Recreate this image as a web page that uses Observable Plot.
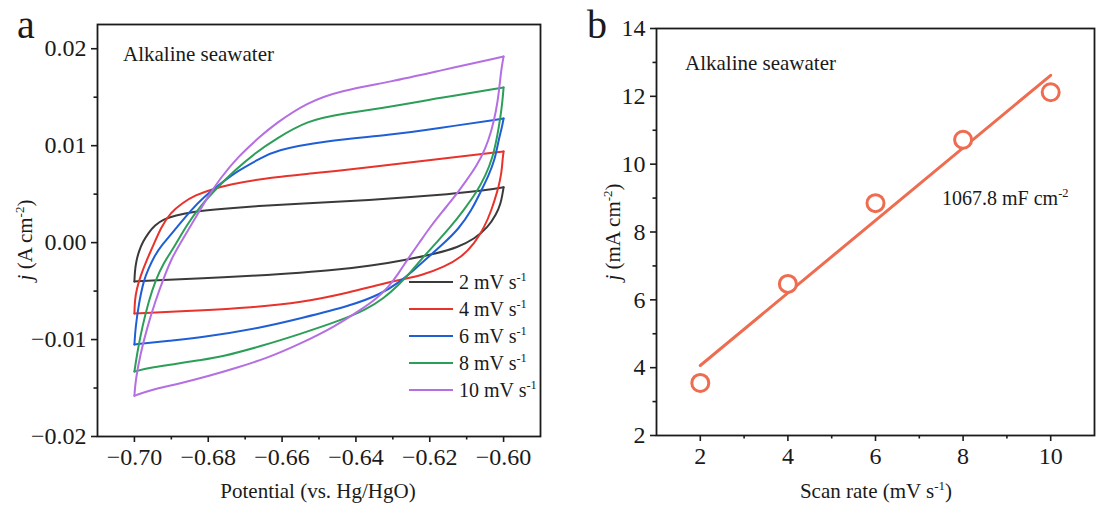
<!DOCTYPE html>
<html><head><meta charset="utf-8">
<script src="https://cdn.jsdelivr.net/npm/d3@7"></script>
<script src="https://cdn.jsdelivr.net/npm/@observablehq/plot@0.6"></script>
<style>
body{margin:0;background:#fff}
#root{position:relative;width:1097px;height:518px;overflow:hidden;background:#fff}
#root svg{position:absolute;top:0;overflow:visible}
</style></head><body><div id="root"></div>
<script>
// ---------- Panel a: CV curves (potential V vs Hg/HgO, current density j in A cm^-2) ----------
const cvLabels = ["2", "4", "6", "8", "10"];
const cvColors = ["#3a3a3a", "#e8322c", "#1f5fd5", "#2c9e58", "#b46fe3"];

// anodic (forward) sweeps -0.70 -> -0.60, and cathodic (reverse) sweeps -0.60 -> -0.70
const cv2Fwd = [[-0.7000,-0.0040],[-0.6999,-0.0030],[-0.6995,-0.0019],[-0.6988,-0.0009],[-0.6977,0.0001],[-0.6962,0.0010],[-0.6945,0.0018],[-0.6921,0.0024],[-0.6890,0.0028],[-0.6840,0.0032],[-0.6760,0.0035],[-0.6660,0.0038],[-0.6500,0.0041],[-0.6360,0.0044],[-0.6250,0.0047],[-0.6150,0.0050],[-0.6070,0.0053],[-0.6000,0.0057]];
const cv2Rev = [[-0.6000,0.0057],[-0.6003,0.0050],[-0.6008,0.0040],[-0.6020,0.0029],[-0.6042,0.0016],[-0.6078,0.0004],[-0.6125,-0.0005],[-0.6180,-0.0011],[-0.6268,-0.0018],[-0.6360,-0.0024],[-0.6450,-0.0028],[-0.6550,-0.0031],[-0.6660,-0.0034],[-0.6820,-0.0037],[-0.6950,-0.0039],[-0.7000,-0.0040]];

const cv4Fwd = [[-0.7000,-0.0073],[-0.6999,-0.0060],[-0.6994,-0.0048],[-0.6983,-0.0034],[-0.6968,-0.0019],[-0.6950,-0.0004],[-0.6928,0.0016],[-0.6902,0.0031],[-0.6870,0.0041],[-0.6835,0.0049],[-0.6790,0.0055],[-0.6740,0.0060],[-0.6660,0.0066],[-0.6500,0.0072],[-0.6360,0.0078],[-0.6180,0.0086],[-0.6000,0.0094]];
const cv4Rev = [[-0.6000,0.0094],[-0.6003,0.0085],[-0.6005,0.0074],[-0.6011,0.0062],[-0.6016,0.0054],[-0.6033,0.0033],[-0.6052,0.0016],[-0.6079,-0.0001],[-0.6114,-0.0015],[-0.6160,-0.0025],[-0.6223,-0.0034],[-0.6277,-0.0038],[-0.6345,-0.0044],[-0.6413,-0.0051],[-0.6549,-0.0062],[-0.6685,-0.0067],[-0.6821,-0.0070],[-0.7000,-0.0073]];

const cv6Fwd = [[-0.7000,-0.0105],[-0.6997,-0.0087],[-0.6988,-0.0063],[-0.6975,-0.0039],[-0.6962,-0.0027],[-0.6946,-0.0014],[-0.6927,-0.0003],[-0.6884,0.0016],[-0.6848,0.0033],[-0.6812,0.0047],[-0.6766,0.0061],[-0.6721,0.0074],[-0.6658,0.0087],[-0.6621,0.0095],[-0.6486,0.0105],[-0.6304,0.0111],[-0.6177,0.0118],[-0.6000,0.0128]];
const cv6Rev = [[-0.6000,0.0128],[-0.6005,0.0118],[-0.6014,0.0105],[-0.6024,0.0085],[-0.6041,0.0069],[-0.6060,0.0054],[-0.6087,0.0033],[-0.6122,0.0014],[-0.6160,0.0000],[-0.6204,-0.0015],[-0.6245,-0.0029],[-0.6283,-0.0041],[-0.6332,-0.0053],[-0.6413,-0.0065],[-0.6549,-0.0078],[-0.6658,-0.0088],[-0.6821,-0.0098],[-0.6902,-0.0101],[-0.7000,-0.0105]];

const cv8Fwd = [[-0.7000,-0.0133],[-0.6993,-0.0115],[-0.6979,-0.0087],[-0.6961,-0.0060],[-0.6943,-0.0039],[-0.6921,-0.0021],[-0.6893,-0.0005],[-0.6857,0.0019],[-0.6821,0.0038],[-0.6775,0.0057],[-0.6730,0.0074],[-0.6671,0.0093],[-0.6617,0.0107],[-0.6531,0.0126],[-0.6440,0.0133],[-0.6304,0.0140],[-0.6177,0.0149],[-0.6000,0.0160]];
const cv8Rev = [[-0.6000,0.0160],[-0.6003,0.0146],[-0.6008,0.0131],[-0.6016,0.0112],[-0.6029,0.0088],[-0.6049,0.0069],[-0.6073,0.0052],[-0.6109,0.0033],[-0.6144,0.0016],[-0.6182,0.0000],[-0.6220,-0.0016],[-0.6253,-0.0031],[-0.6285,-0.0044],[-0.6323,-0.0057],[-0.6372,-0.0069],[-0.6440,-0.0080],[-0.6549,-0.0094],[-0.6658,-0.0107],[-0.6766,-0.0118],[-0.6821,-0.0121],[-0.6902,-0.0126],[-0.6957,-0.0129],[-0.7000,-0.0133]];

const cv10Fwd = [[-0.7000,-0.0158],[-0.6997,-0.0142],[-0.6984,-0.0115],[-0.6965,-0.0087],[-0.6943,-0.0060],[-0.6920,-0.0036],[-0.6899,-0.0016],[-0.6875,0.0000],[-0.6840,0.0022],[-0.6802,0.0047],[-0.6766,0.0067],[-0.6721,0.0088],[-0.6658,0.0110],[-0.6621,0.0122],[-0.6531,0.0145],[-0.6440,0.0157],[-0.6304,0.0166],[-0.6177,0.0177],[-0.6000,0.0192]];
const cv10Rev = [[-0.6000,0.0192],[-0.6007,0.0177],[-0.6012,0.0157],[-0.6020,0.0136],[-0.6033,0.0115],[-0.6049,0.0097],[-0.6073,0.0079],[-0.6101,0.0064],[-0.6133,0.0047],[-0.6166,0.0032],[-0.6201,0.0015],[-0.6228,0.0000],[-0.6258,-0.0016],[-0.6285,-0.0032],[-0.6312,-0.0046],[-0.6345,-0.0058],[-0.6386,-0.0069],[-0.6459,-0.0087],[-0.6549,-0.0104],[-0.6639,-0.0119],[-0.6731,-0.0130],[-0.6793,-0.0137],[-0.6884,-0.0146],[-0.6957,-0.0152],[-0.7000,-0.0158]];

const xTicksA = [-0.70, -0.68, -0.66, -0.64, -0.62, -0.60];
const xMinorA = [-0.69, -0.67, -0.65, -0.63, -0.61];
const yTicksA = [-0.02, -0.01, 0.00, 0.01, 0.02];
const yMinorA = [-0.015, -0.005, 0.005, 0.015];

// ---------- Panel b: j vs scan rate ----------
const scanRates = [2, 4, 6, 8, 10];
const jValues = [3.55, 6.47, 8.85, 10.72, 12.12];
const xTicksB = [2, 4, 6, 8, 10];
const xMinorB = [3, 5, 7, 9];
const yTicksB = [2, 4, 6, 8, 10, 12, 14];
const yMinorB = [3, 5, 7, 9, 11, 13];

const FONT = '"Liberation Serif", "Times New Roman", serif';
const INK = "#1a1a1a";
const CORAL = "#ee6c50";
const FS = 21;
const TICK_FS = 24;

const cvSweeps = [[cv2Fwd, cv2Rev], [cv4Fwd, cv4Rev], [cv6Fwd, cv6Rev], [cv8Fwd, cv8Rev], [cv10Fwd, cv10Rev]];
const cvRows = cvSweeps.flatMap(([fwd, rev], i) => [
  ...fwd.map(([V, j]) => ({V, j, rate: cvLabels[i], sweep: cvLabels[i] + "f"})),
  ...rev.map(([V, j]) => ({V, j, rate: cvLabels[i], sweep: cvLabels[i] + "r"}))
]);
const bRows = scanRates.map((r, i) => ({rate: r, j: jValues[i]}));

function axes(xt, xm, yt, ym, fmtX, fmtY) {
  const common = {stroke: INK, strokeWidth: 1.6, fill: INK, fontSize: TICK_FS, fontFamily: FONT, label: null};
  return [
    Plot.axisX(xt, {...common, tickSize: 6, tickPadding: 5, tickFormat: fmtX}),
    Plot.axisX(xm, {...common, tickSize: 3.5, tickFormat: () => ""}),
    Plot.axisY(yt, {...common, tickSize: 6, tickPadding: 5, tickFormat: fmtY}),
    Plot.axisY(ym, {...common, tickSize: 3.5, tickFormat: () => ""})
  ];
}

const plotA = Plot.plot({
  width: 560, height: 518,
  marginLeft: 97, marginRight: 20, marginTop: 24, marginBottom: 82,
  style: {fontFamily: FONT, fontSize: TICK_FS + "px", color: INK, background: "transparent", overflow: "visible"},
  x: {domain: [-0.71, -0.59], label: null},
  y: {domain: [-0.02, 0.0225], label: null},
  color: {domain: cvLabels, range: cvColors},
  marks: [
    Plot.line(cvRows, {x: "V", y: "j", z: "sweep", stroke: "rate", strokeWidth: 2, curve: "basis"}),
    Plot.frame({stroke: INK, strokeWidth: 1.8}),
    ...axes(xTicksA, xMinorA, yTicksA, yMinorA, d3.format(".2f"), d3.format(".2f"))
  ]
});

const plotB = Plot.plot({
  width: 537, height: 518,
  marginLeft: 96, marginRight: 3, marginTop: 28, marginBottom: 83,
  style: {fontFamily: FONT, fontSize: TICK_FS + "px", color: INK, background: "transparent", overflow: "visible"},
  x: {domain: [1, 11], label: null},
  y: {domain: [2, 14], label: null},
  marks: [
    Plot.linearRegressionY(bRows, {x: "rate", y: "j", stroke: CORAL, strokeWidth: 3, ci: 0}),
    Plot.dot(bRows, {x: "rate", y: "j", r: 8.5, stroke: CORAL, strokeWidth: 3, fill: "white"}),
    Plot.frame({stroke: INK, strokeWidth: 1.8}),
    ...axes(xTicksB, xMinorB, yTicksB, yMinorB, d3.format("d"), d3.format("d"))
  ]
});

const root = document.getElementById("root");
plotA.style.left = "0px";
plotB.style.left = "560px";
root.append(plotA, plotB);

// all text Plot generated here is tick labels: force the intended size/font
for (const svg of [plotA, plotB]) {
  svg.querySelectorAll("g").forEach(g => {
    if (g.getAttribute("font-size")) g.setAttribute("font-size", TICK_FS);
  });
  svg.querySelectorAll("text").forEach(t => {
    t.setAttribute("font-size", TICK_FS);
    t.style.setProperty("font-size", TICK_FS + "px", "important");
    t.style.fontFamily = FONT;
  });
}

// rich text helper (italic / superscript parts)
function richText(svg, {x, y, size = FS, rotate = 0, anchor = "start", parts}) {
  const t = d3.select(svg).append("text")
    .attr("transform", `translate(${x},${y}) rotate(${rotate})`)
    .attr("text-anchor", anchor)
    .attr("font-family", FONT).attr("font-size", size).attr("fill", INK);
  const shift = size * 0.4;
  let raised = false;
  for (const p of parts) {
    const s = t.append("tspan").text(p.t);
    if (p.i) s.attr("font-style", "italic");
    if (p.sup) { s.attr("font-size", size * 0.62).attr("dy", -shift); raised = true; }
    else if (raised) { s.attr("dy", shift); raised = false; }
  }
  return t;
}

// panel letters
richText(plotA, {x: 17, y: 38, size: 40, parts: [{t: "a"}]});
richText(plotB, {x: 27, y: 38, size: 40, parts: [{t: "b"}]});

// in-plot titles
richText(plotA, {x: 123, y: 61, parts: [{t: "Alkaline seawater"}]});
richText(plotB, {x: 125, y: 70, parts: [{t: "Alkaline seawater"}]});

// axis titles
richText(plotA, {x: 318, y: 498, anchor: "middle", parts: [{t: "Potential (vs. Hg/HgO)"}]});
richText(plotA, {x: 32, y: 240, rotate: -90, anchor: "middle", parts: [{t: "j", i: true}, {t: " (A cm"}, {t: "-2", sup: true}, {t: ")"}]});
richText(plotB, {x: 316, y: 498, anchor: "middle", parts: [{t: "Scan rate (mV s"}, {t: "-1", sup: true}, {t: ")"}]});
richText(plotB, {x: 60, y: 232, rotate: -90, anchor: "middle", parts: [{t: "j", i: true}, {t: " (mA cm"}, {t: "-2", sup: true}, {t: ")"}]});

// slope annotation
richText(plotB, {x: 382, y: 205, size: 20, parts: [{t: "1067.8 mF cm"}, {t: "-2", sup: true}]});

// legend (panel a)
const lg = d3.select(plotA).append("g");
cvLabels.forEach((lab, i) => {
  const yy = 282 + i * 27;
  lg.append("line").attr("x1", 409).attr("x2", 453).attr("y1", yy).attr("y2", yy)
    .attr("stroke", cvColors[i]).attr("stroke-width", 2.2);
  richText(plotA, {x: 459, y: yy + 7, size: 20, parts: [{t: lab + " mV s"}, {t: "-1", sup: true}]});
});
</script></body></html>
